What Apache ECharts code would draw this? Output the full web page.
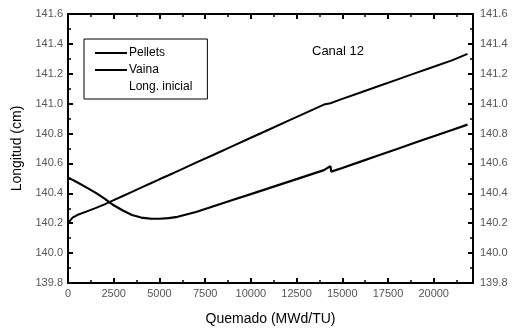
<!DOCTYPE html>
<html>
<head>
<meta charset="utf-8">
<style>
  html, body { margin: 0; padding: 0; background: #fff; }
  #chart { width: 513px; height: 331px; }
</style>
<script src="https://cdn.jsdelivr.net/npm/echarts@6/dist/echarts.min.js"></script>
</head>
<body>
<div id="chart"></div>
<script>
// Burnup samples (MWd/TU); the pair at 14350/14400 carries the step
const burnup = [0, 250, 500, 1000, 1500, 2000, 2500, 3000, 3500, 4000, 4500, 5000, 5500, 6000,
  7000, 8000, 9000, 10000, 11000, 12000, 13000, 14000, 14350, 14400,
  15000, 16000, 17000, 18000, 19000, 20000, 21000, 21850];

// Pellet stack length (cm)
const pellets = [140.200, 140.238, 140.255, 140.278, 140.301, 140.326, 140.354, 140.382, 140.410, 140.438,
  140.466, 140.494, 140.521, 140.549, 140.605, 140.660, 140.716, 140.772, 140.827, 140.883,
  140.938, 140.994, 141.003, 141.008, 141.032, 141.075, 141.118, 141.161, 141.204, 141.247,
  141.290, 141.333];

// Cladding (vaina) length (cm)
const vaina = [140.506, 140.490, 140.474, 140.440, 140.405, 140.365, 140.320, 140.285, 140.255, 140.238,
  140.231, 140.230, 140.234, 140.243, 140.275, 140.315, 140.355, 140.395, 140.435, 140.475,
  140.515, 140.555, 140.582, 140.545, 140.570, 140.612, 140.655, 140.697, 140.740, 140.782,
  140.824, 140.860];

const seriesNames = ['Pellets', 'Vaina', 'Long. inicial'];
const xMin = 0, xMax = 22150, xStep = 2500;
const yMin = 139.8, yMax = 141.6, yStep = 0.2;

const pairs = (xs, ys) => xs.map((x, i) => [x, ys[i]]);

const FONT = 'Liberation Sans, Arial, sans-serif';
const labelStyle = { color: '#555', fontFamily: FONT, fontSize: 11 };
const lineStyle = { color: '#000', width: 2 };
const majorTick = { color: '#000', width: 2 };
const minorTick = { color: '#000', width: 1.5 };
const MAJOR = 5, MINOR = 3;

// One axis per side carries the frame line and major ticks, a second one the minor ticks
function xAxisDef(position, step, tickLen, withLabels, withLine) {
  return {
    type: 'value', position: position, min: xMin, max: xMax, interval: step,
    axisLine: { show: withLine, onZero: false, lineStyle: lineStyle },
    axisTick: { show: true, inside: true, length: tickLen, lineStyle: withLine ? majorTick : minorTick },
    axisLabel: withLabels
      ? Object.assign({ margin: 5, showMaxLabel: false, formatter: v => String(v) }, labelStyle)
      : { show: false },
    splitLine: { show: false }
  };
}

function yAxisDef(position, step, tickLen, withLabels, withLine) {
  return {
    type: 'value', position: position, min: yMin, max: yMax, interval: step,
    axisLine: { show: withLine, onZero: false, lineStyle: lineStyle },
    axisTick: { show: true, inside: true, length: tickLen, lineStyle: withLine ? majorTick : minorTick },
    axisLabel: withLabels
      ? Object.assign({ margin: position === 'left' ? 5 : 7, formatter: v => v.toFixed(1) }, labelStyle)
      : { show: false },
    splitLine: { show: false }
  };
}

const bottomMain = xAxisDef('bottom', xStep, MAJOR, true, true);
bottomMain.name = 'Quemado (MWd/TU)';
bottomMain.nameLocation = 'middle';
bottomMain.nameGap = 29;
bottomMain.nameTextStyle = { color: '#000', fontSize: 14, fontFamily: FONT };

const leftMain = yAxisDef('left', yStep, MAJOR, true, true);
leftMain.name = 'Longitud (cm)';
leftMain.nameLocation = 'middle';
leftMain.nameGap = 42;
leftMain.nameTextStyle = { color: '#000', fontSize: 14, fontFamily: FONT };

const chart = echarts.init(document.getElementById('chart'));
chart.setOption({
  animation: false,
  backgroundColor: '#fff',
  grid: { left: 68, right: 40, top: 14, bottom: 45, containLabel: false },
  title: {
    text: 'Canal 12', left: 307, top: 40,
    textStyle: { color: '#000', fontSize: 13, fontWeight: 'normal', fontFamily: FONT }
  },
  legend: {
    orient: 'vertical', left: 84, top: 39,
    padding: [8, 15, 6, 11],
    itemWidth: 32, itemHeight: 14, itemGap: 5,
    icon: 'path://M0,0H32V2H0Z',
    borderColor: '#000', borderWidth: 1, borderRadius: 0,
    textStyle: { color: '#000', fontSize: 12, fontFamily: FONT, padding: [0, 0, 0, -3] },
    data: [
      { name: seriesNames[0] },
      { name: seriesNames[1] },
      { name: seriesNames[2], itemStyle: { opacity: 0 }, lineStyle: { opacity: 0 } }
    ]
  },
  xAxis: [
    bottomMain,
    xAxisDef('top', xStep, MAJOR, false, true),
    xAxisDef('bottom', xStep / 2, MINOR, false, false),
    xAxisDef('top', xStep / 2, MINOR, false, false)
  ],
  yAxis: [
    leftMain,
    yAxisDef('right', yStep, MAJOR, true, true),
    yAxisDef('left', yStep / 2, MINOR, false, false),
    yAxisDef('right', yStep / 2, MINOR, false, false)
  ],
  series: [
    {
      name: seriesNames[0], type: 'line', xAxisIndex: 0, yAxisIndex: 0,
      data: pairs(burnup, pellets), symbol: 'none',
      lineStyle: { color: '#000', width: 2 }, itemStyle: { color: '#000' }
    },
    {
      name: seriesNames[1], type: 'line', xAxisIndex: 0, yAxisIndex: 0,
      data: pairs(burnup, vaina), symbol: 'none',
      lineStyle: { color: '#000', width: 2.2 }, itemStyle: { color: '#000' }
    },
    {
      name: seriesNames[2], type: 'line', xAxisIndex: 0, yAxisIndex: 0,
      data: [], symbol: 'none',
      lineStyle: { color: '#fff', width: 0 }, itemStyle: { color: '#fff' }
    }
  ]
});
</script>
</body>
</html>
